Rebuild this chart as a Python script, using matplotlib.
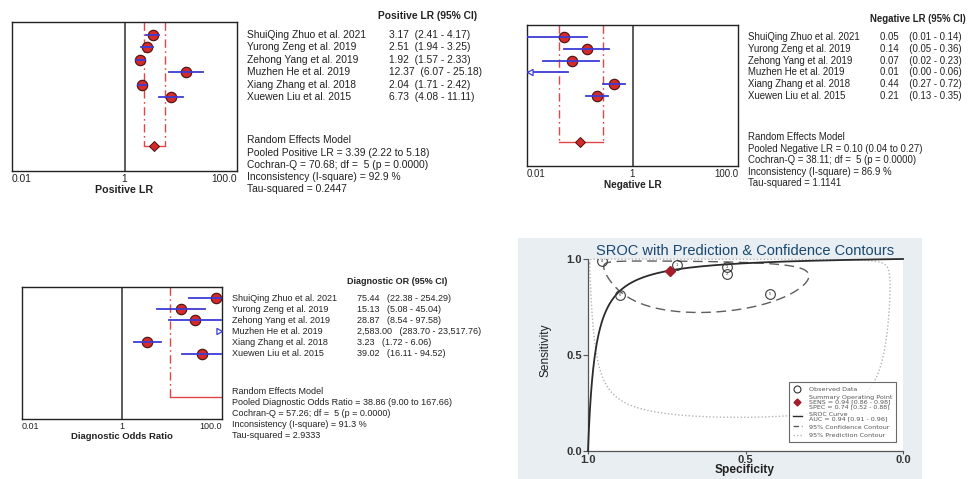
import numpy as np
import matplotlib.pyplot as plt
from matplotlib.lines import Line2D
from matplotlib.patches import Rectangle
from matplotlib.transforms import blended_transform_factory

plt.rcParams['font.family'] = ['Liberation Sans', 'DejaVu Sans']

W, H = 969, 479

# ---- per-study estimates ----
studies = ["ShuiQing Zhuo et al. 2021", "Yurong Zeng et al. 2019", "Zehong Yang et al. 2019",
           "Muzhen He et al. 2019", "Xiang Zhang et al. 2018", "Xuewen Liu et al. 2015"]

plr = [3.17, 2.51, 1.92, 12.37, 2.04, 6.73]
plr_lo = [2.41, 1.94, 1.57, 6.07, 1.71, 4.08]
plr_hi = [4.17, 3.25, 2.33, 25.18, 2.42, 11.11]
plr_pooled = [3.39, 2.22, 5.18]
plr_stats = [70.68, 92.9, 0.2447]

nlr = [0.05, 0.14, 0.07, 0.01, 0.44, 0.21]
nlr_lo = [0.01, 0.05, 0.02, 0.00, 0.27, 0.13]
nlr_hi = [0.14, 0.36, 0.23, 0.06, 0.72, 0.35]
nlr_pooled = [0.10, 0.04, 0.27]
nlr_stats = [38.11, 86.9, 1.1141]

dor = [75.44, 15.13, 28.87, 2583.00, 3.23, 39.02]
dor_lo = [22.38, 5.08, 8.54, 283.70, 1.72, 16.11]
dor_hi = [254.29, 45.04, 97.58, 23517.76, 6.06, 94.52]
dor_pooled = [38.86, 9.00, 167.66]
dor_stats = [57.26, 91.3, 2.9333]

# ---- SROC data ----
sroc_spec = [0.955, 0.717, 0.558, 0.558, 0.900, 0.421]
sroc_sens = [0.991, 0.969, 0.960, 0.923, 0.811, 0.816]
sroc_ids = [4, 1, 3, 2, 6, 5]
summary_sens, summary_spec = 0.94, 0.74
summary_sens_ci = [0.86, 0.98]
summary_spec_ci = [0.52, 0.88]
auc, auc_ci = 0.94, [0.91, 0.96]
# contour shapes in logit space: sd(logit spec), sd(logit sens), correlation
conf_shape = [1.9, 1.8, 0.23]
pred_shape = [4.2, 4.3, 0.23]

RED = '#d42a2a'
DARKRED = '#4a0f0f'
BLUE = '#3b3bd6'
DASH_RED = '#e0454a'
TXT = '#222222'

fig = plt.figure(figsize=(W / 100, H / 100), dpi=100)
fig.patch.set_facecolor('white')


def px_rect(left, top, right, bottom):
    return [left / W, 1 - bottom / H, (right - left) / W, (bottom - top) / H]


def fmt(v):
    return f"{v:,.2f}"


arrow_left = [(0, 0), (1, 0.55), (1, -0.55), (0, 0)]
arrow_right = [(0, 0), (-1, 0.55), (-1, -0.55), (0, 0)]


def forest(box, est, lo, hi, pooled, stats, header, xlabel, pooled_line, cols, fs, gap):
    ax = fig.add_axes(px_rect(*box))
    ax.set_xscale('log')
    xmin, xmax = 0.01, 100.0
    ax.set_xlim(xmin, xmax)
    ax.set_ylim(10.9, -1.0)
    pooled_y = 8.9
    p, plo, phi = pooled

    # pooled CI as dash-dot verticals closed off at the diamond row
    for xv in (plo, phi):
        if xmin < xv < xmax:
            ax.plot([xv, xv], [-1.0, pooled_y], color=DASH_RED, lw=1, ls=(0, (6, 2.5, 1.2, 2.5)))
    ax.plot([max(plo, xmin), min(phi, xmax)], [pooled_y] * 2, color=DASH_RED, lw=1)
    if xmin < plo and phi < xmax:
        ax.plot(p, pooled_y, 'D', ms=5.5, mfc=RED, mec=DARKRED, mew=0.7, zorder=4)

    ax.axvline(1, color='#404040', lw=1.2)

    for y, (e, l, h) in enumerate(zip(est, lo, hi)):
        if xmin < e < xmax:
            ax.plot(e, y, 'o', ms=7.5, mfc=RED, mec=DARKRED, mew=0.8, zorder=3)
        l_draw, h_draw = max(l, xmin), min(h, xmax)
        if l_draw < h_draw:
            ax.plot([l_draw, h_draw], [y, y], color=BLUE, lw=1.3, zorder=4)
        if e <= xmin:
            ax.plot(xmin, y, marker=arrow_left, ms=8, mfc='white', mec=BLUE, mew=0.9, ls='none', zorder=5)
        elif e >= xmax:
            ax.plot(xmax, y, marker=arrow_right, ms=8, mfc='white', mec=BLUE, mew=0.9, ls='none', zorder=5)

    for sp in ax.spines.values():
        sp.set_color('#222222')
        sp.set_linewidth(1.0)
    ax.set_yticks([])
    ax.minorticks_off()
    ax.set_xticks([0.01, 1, 100])
    ax.set_xticklabels(["0.01", "1", "100.0"], fontsize=fs, color=TXT)
    for lbl, ha in zip(ax.get_xticklabels(), ['left', 'center', 'right']):
        lbl.set_ha(ha)
    ax.tick_params(axis='x', length=0, pad=2)
    ax.set_xlabel(xlabel, fontsize=fs + 0.3, fontweight='bold', color=TXT, labelpad=1)

    # study table to the right of the plot
    tr = blended_transform_factory(fig.transFigure, ax.transData)
    name_x, val_x, head_x = cols
    ax.text(head_x / W, -1.5, header, transform=tr, fontsize=fs, fontweight='bold',
            color=TXT, va='center', clip_on=False)
    for y, (name, e, l, h) in enumerate(zip(studies, est, lo, hi)):
        ax.text(name_x / W, y, name, transform=tr, fontsize=fs, color=TXT, va='center')
        ax.text(val_x / W, y, f"{fmt(e)}{gap}({fmt(l)} - {fmt(h)})", transform=tr,
                fontsize=fs, color=TXT, va='center')

    q, i2, tau2 = stats
    lines = ["Random Effects Model",
             f"{pooled_line} = {p:.2f} ({plo:.2f} to {phi:.2f})",
             f"Cochran-Q = {q:.2f}; df =  5 (p = 0.0000)",
             f"Inconsistency (I-square) = {i2:.1f} %",
             f"Tau-squared = {tau2:.4f}"]
    for k, s in enumerate(lines):
        ax.text(name_x / W, 8.45 + k * 0.98, s, transform=tr, fontsize=fs, color=TXT,
                va='center', clip_on=False)
    return ax


forest((12, 22, 237, 171), plr, plr_lo, plr_hi, plr_pooled, plr_stats,
       "Positive LR (95% CI)", "Positive LR", "Pooled Positive LR",
       (247, 389, 378), 7.4, "  ")
forest((527, 25, 738, 166), nlr, nlr_lo, nlr_hi, nlr_pooled, nlr_stats,
       "Negative LR (95% CI)", "Negative LR", "Pooled Negative LR",
       (748, 880, 870), 6.9, "    ")
forest((22, 287, 222, 419), dor, dor_lo, dor_hi, dor_pooled, dor_stats,
       "Diagnostic OR (95% CI)", "Diagnostic Odds Ratio", "Pooled Diagnostic Odds Ratio",
       (232, 357, 347), 6.5, "   ")


# ---- SROC panel ----
def logit(p):
    p = np.asarray(p, dtype=float)
    return np.log(p / (1 - p))


def expit(z):
    return 1 / (1 + np.exp(-z))


def contour(shape, n=400):
    su, sv, r = shape
    t = np.linspace(0, 2 * np.pi, n)
    u = su * np.cos(t)
    v = sv * (r * np.cos(t) + np.sqrt(1 - r ** 2) * np.sin(t))
    return expit(logit(summary_spec) + u), expit(logit(summary_sens) + v)


fig.patches.append(Rectangle((518 / W, 0), (922 - 518) / W, (479 - 238) / H,
                             transform=fig.transFigure, facecolor='#e8eef2',
                             edgecolor='none', zorder=-1))

ax = fig.add_axes(px_rect(588, 259, 903, 451))
ax.set_facecolor('white')
ax.set_xlim(1, 0)
ax.set_ylim(0, 1)

ln_dor = logit(summary_sens) - logit(1 - summary_spec)
fpr = np.concatenate([np.logspace(-7, -1, 300), np.linspace(0.1, 1 - 1e-7, 300)])
ax.plot(1 - fpr, expit(logit(fpr) + ln_dor), color='#2b2b2b', lw=1.3, clip_on=False, zorder=3)

cs, cn = contour(conf_shape)
ax.plot(cs, cn, color='#5e5e5e', lw=1.0, ls=(0, (7, 4)), clip_on=False, zorder=2)
ps, pn = contour(pred_shape)
ax.plot(ps, pn, color='#b4b4b4', lw=1.0, ls=(0, (1, 1.5)), clip_on=False, zorder=1)

ax.plot(sroc_spec, sroc_sens, 'o', ms=7, mfc='none', mec='#3a3a3a', mew=0.8, zorder=4)
for sx, sy, sid in zip(sroc_spec, sroc_sens, sroc_ids):
    ax.text(sx, sy, str(sid), fontsize=3, ha='center', va='center', color='#3a3a3a', zorder=5)
ax.plot(summary_spec, summary_sens, 'D', ms=5, mfc='#a51c2a', mec='#a51c2a', zorder=5)

for side in ('top', 'right'):
    ax.spines[side].set_visible(False)
for side in ('left', 'bottom'):
    ax.spines[side].set_color('#555555')
    ax.spines[side].set_linewidth(0.9)
ax.set_xticks([1.0, 0.5, 0.0])
ax.set_yticks([0.0, 0.5, 1.0])
ax.set_xticklabels(["1.0", "0.5", "0.0"])
ax.set_yticklabels(["0.0", "0.5", "1.0"])
ax.tick_params(length=3.5, width=0.8, color='#555555', labelsize=8, labelcolor='#333333', pad=1)
ax.tick_params(axis='x', length=2.5, pad=0.5)
for lbl in ax.get_xticklabels() + ax.get_yticklabels():
    lbl.set_fontweight('bold')

fig.text(745 / W, 1 - 251 / H, "SROC with Prediction & Confidence Contours",
         fontsize=10.5, color='#1a476f', ha='center', va='center')
fig.text(545 / W, 1 - 350 / H, "Sensitivity", rotation=90, fontsize=8.6,
         color='#222222', ha='center', va='center')
fig.text(745 / W, 1 - 470 / H, "Specificity", fontsize=8.6, fontweight='bold',
         color='#222222', ha='center', va='center')

handles = [
    Line2D([], [], marker='o', ls='none', mfc='none', mec='#333333', ms=5, mew=0.8),
    Line2D([], [], marker='D', ls='none', mfc='#a51c2a', mec='#a51c2a', ms=3.5),
    Line2D([], [], color='#2b2b2b', lw=1.0),
    Line2D([], [], color='#5e5e5e', lw=1.0, ls=(0, (4, 2))),
    Line2D([], [], color='#b4b4b4', lw=1.0, ls=(0, (1, 1.5))),
]
labels = [
    "Observed Data",
    f"Summary Operating Point\nSENS = {summary_sens:.2f} [{summary_sens_ci[0]:.2f} - {summary_sens_ci[1]:.2f}]\n"
    f"SPEC = {summary_spec:.2f} [{summary_spec_ci[0]:.2f} - {summary_spec_ci[1]:.2f}]",
    f"SROC Curve\nAUC = {auc:.2f} [{auc_ci[0]:.2f} - {auc_ci[1]:.2f}]",
    "95% Confidence Contour",
    "95% Prediction Contour",
]
leg = ax.legend(handles, labels, loc='lower right', bbox_to_anchor=(0.987, 0.031),
                prop={'family': 'DejaVu Sans', 'size': 4.6}, frameon=True, fancybox=False,
                handlelength=1.5, labelspacing=0.45, borderpad=0.6, handletextpad=1.0,
                labelcolor='#555555')
for t in leg.get_texts():
    t.set_linespacing(0.9)
leg.get_frame().set_edgecolor('#444444')
leg.get_frame().set_linewidth(0.8)

fig.savefig('out.png', dpi=100)
